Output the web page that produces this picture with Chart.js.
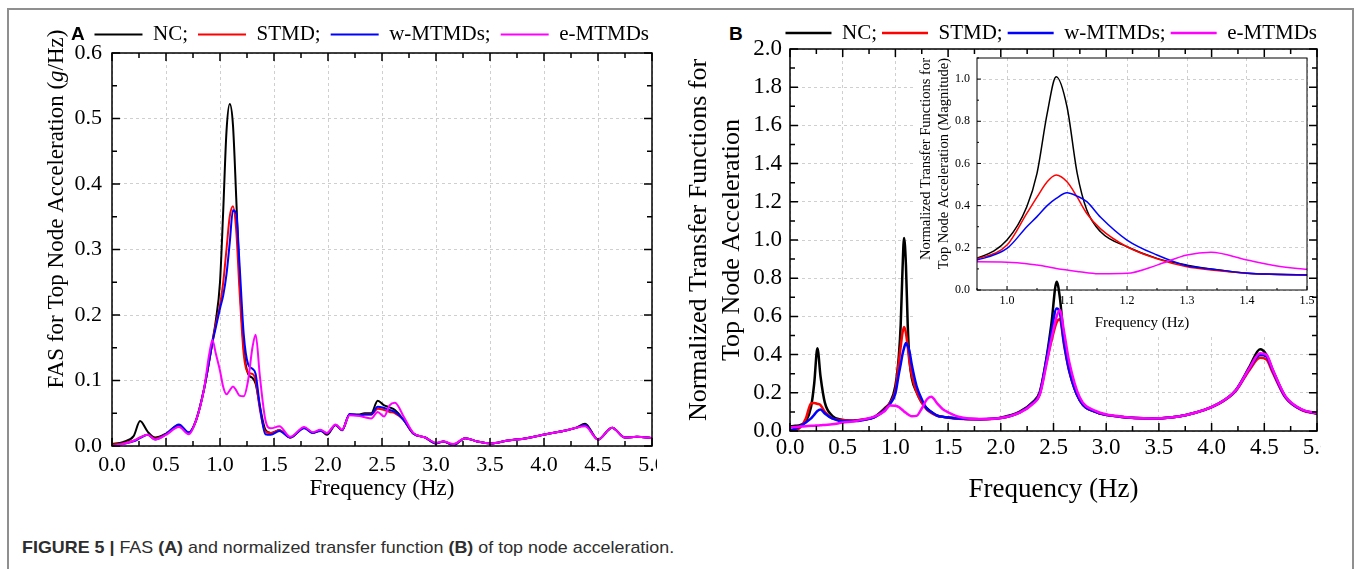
<!DOCTYPE html>
<html>
<head>
<meta charset="utf-8">
<title>Figure 5</title>
<script src="https://cdn.jsdelivr.net/npm/chart.js@4.4.1/dist/chart.umd.min.js"></script>
<style>
  html, body { margin: 0; padding: 0; background: #fff; }
  body { position: relative; width: 1358px; height: 569px; overflow: hidden; }
  canvas { display: block; }
  .border { position: absolute; left: 7px; top: 8px; width: 1347px; height: 620px; border: 2px solid #8f8f8f; box-sizing: border-box; }
  .wrap { position: absolute; }
  .tag { position: absolute; font: bold 19px "Liberation Sans", Arial, sans-serif; line-height: 19px; }
  #caption { position: absolute; left: 22px; top: 538px; font: 17px "Liberation Sans", Arial, sans-serif; line-height: 20px; color: #2e2e2e; white-space: nowrap; transform-origin: 0 50%; }
</style>
</head>
<body>
<div class="border"></div>
<div class="wrap" style="left:20px;top:12px;"><canvas id="chartA" width="637" height="498"></canvas></div>
<div class="wrap" style="left:914px;top:57px;z-index:1;"><canvas id="inset" width="404" height="278"></canvas></div>
<div class="wrap" style="left:672px;top:13px;z-index:2;"><canvas id="chartB" width="649" height="499"></canvas></div>
<div class="tag" style="left:71px;top:24px;">A</div>
<div class="tag" style="left:729px;top:24px;">B</div>
<div id="caption"><b>FIGURE 5 |</b> FAS <b>(A)</b> and normalized transfer function <b>(B)</b> of top node acceleration.</div>
<script>
// series names and colours (NC, STMD, w-MTMDs, e-MTMDs)
const seriesNames = ['NC', 'STMD', 'w-MTMDs', 'e-MTMDs'];
const seriesColors = ['#000000', '#ff0000', '#0000ff', '#ff00ff'];

// panel A: FAS of top node acceleration (g/Hz)
const freqA = [0, 0.1, 0.2, 0.26, 0.33, 0.4, 0.5, 0.62, 0.71, 0.78,
  0.85, 0.9, 0.93, 0.96, 1.0, 1.03, 1.06, 1.09, 1.12, 1.15,
  1.18, 1.22, 1.26, 1.3, 1.33, 1.37, 1.42, 1.47, 1.55, 1.65,
  1.78, 1.86, 1.93, 1.99, 2.07, 2.13, 2.2, 2.28, 2.34, 2.4,
  2.46, 2.52, 2.57, 2.62, 2.7, 2.79, 2.9, 3.0, 3.07, 3.16,
  3.27, 3.38, 3.51, 3.65, 3.84, 4.02, 4.21, 4.3, 4.38, 4.5,
  4.63, 4.75, 4.86, 5.0];
const ncA = [0.003, 0.006, 0.015, 0.038, 0.022, 0.013, 0.019, 0.032, 0.020, 0.040,
  0.085, 0.130, 0.160, 0.190, 0.250, 0.360, 0.480, 0.522, 0.490, 0.380,
  0.260, 0.150, 0.110, 0.104, 0.095, 0.060, 0.025, 0.020, 0.024, 0.013,
  0.028, 0.020, 0.024, 0.017, 0.032, 0.024, 0.048, 0.048, 0.050, 0.050,
  0.069, 0.062, 0.059, 0.055, 0.040, 0.019, 0.013, 0.004, 0.007, 0.001,
  0.012, 0.007, 0.004, 0.008, 0.012, 0.018, 0.024, 0.028, 0.034, 0.010,
  0.028, 0.013, 0.014, 0.012];
const stmdA = [0.002, 0.004, 0.008, 0.013, 0.017, 0.011, 0.018, 0.030, 0.020, 0.040,
  0.085, 0.130, 0.158, 0.185, 0.215, 0.250, 0.300, 0.350, 0.366, 0.330,
  0.240, 0.140, 0.112, 0.110, 0.100, 0.055, 0.022, 0.020, 0.024, 0.013,
  0.028, 0.020, 0.024, 0.019, 0.032, 0.024, 0.048, 0.047, 0.048, 0.048,
  0.057, 0.055, 0.052, 0.050, 0.040, 0.019, 0.013, 0.004, 0.007, 0.002,
  0.012, 0.007, 0.004, 0.008, 0.012, 0.018, 0.024, 0.028, 0.032, 0.010,
  0.028, 0.013, 0.014, 0.012];
const wmtA = [0.000, 0.003, 0.007, 0.012, 0.017, 0.010, 0.018, 0.033, 0.021, 0.040,
  0.085, 0.130, 0.158, 0.180, 0.210, 0.230, 0.262, 0.310, 0.360, 0.355,
  0.280, 0.170, 0.125, 0.118, 0.110, 0.060, 0.018, 0.017, 0.023, 0.013,
  0.027, 0.020, 0.023, 0.019, 0.032, 0.024, 0.049, 0.047, 0.048, 0.048,
  0.060, 0.058, 0.055, 0.052, 0.040, 0.019, 0.013, 0.004, 0.007, 0.002,
  0.012, 0.007, 0.004, 0.008, 0.012, 0.018, 0.024, 0.028, 0.032, 0.010,
  0.028, 0.013, 0.014, 0.012];
const emtA = [0.000, 0.003, 0.008, 0.013, 0.017, 0.010, 0.017, 0.029, 0.018, 0.040,
  0.085, 0.140, 0.162, 0.142, 0.115, 0.090, 0.079, 0.085, 0.091, 0.085,
  0.077, 0.076, 0.100, 0.150, 0.170, 0.105, 0.040, 0.027, 0.030, 0.014,
  0.029, 0.021, 0.025, 0.020, 0.033, 0.025, 0.047, 0.046, 0.044, 0.042,
  0.052, 0.045, 0.062, 0.066, 0.045, 0.020, 0.013, 0.005, 0.007, 0.003,
  0.012, 0.007, 0.004, 0.008, 0.012, 0.018, 0.024, 0.028, 0.030, 0.010,
  0.028, 0.013, 0.014, 0.012];

// panel B (and its inset): normalized transfer functions
const freqB = [0, 0.05, 0.1, 0.15, 0.2, 0.23, 0.26, 0.29, 0.33, 0.4,
  0.5, 0.6, 0.7, 0.8, 0.9, 0.95, 1.0, 1.033, 1.05, 1.067,
  1.082, 1.1, 1.117, 1.133, 1.156, 1.2, 1.25, 1.3, 1.34, 1.4,
  1.45, 1.5, 1.6, 1.8, 2.0, 2.18, 2.3, 2.37, 2.43, 2.48,
  2.53, 2.56, 2.6, 2.65, 2.75, 2.9, 3.13, 3.44, 3.76, 4.07,
  4.23, 4.36, 4.46, 4.52, 4.58, 4.7, 4.86, 5.0];
const ncB = [0.023, 0.027, 0.032, 0.050, 0.127, 0.250, 0.433, 0.284, 0.150, 0.080,
  0.058, 0.054, 0.060, 0.074, 0.120, 0.150, 0.237, 0.395, 0.553, 0.837,
  1.011, 0.869, 0.553, 0.379, 0.276, 0.205, 0.150, 0.118, 0.100, 0.079,
  0.074, 0.071, 0.065, 0.062, 0.070, 0.101, 0.150, 0.205, 0.370, 0.560,
  0.782, 0.700, 0.480, 0.320, 0.160, 0.100, 0.075, 0.066, 0.084, 0.145,
  0.215, 0.337, 0.428, 0.400, 0.320, 0.180, 0.110, 0.092];
const stmdB = [0.000, 0.005, 0.020, 0.065, 0.145, 0.147, 0.142, 0.136, 0.100, 0.066,
  0.057, 0.054, 0.060, 0.072, 0.115, 0.148, 0.213, 0.363, 0.440, 0.513,
  0.545, 0.513, 0.440, 0.363, 0.290, 0.205, 0.148, 0.110, 0.095, 0.080,
  0.074, 0.070, 0.064, 0.061, 0.068, 0.098, 0.145, 0.195, 0.350, 0.470,
  0.570, 0.585, 0.450, 0.310, 0.160, 0.100, 0.075, 0.066, 0.084, 0.143,
  0.210, 0.320, 0.383, 0.375, 0.305, 0.175, 0.108, 0.091];
const wmtB = [0.005, 0.012, 0.025, 0.045, 0.066, 0.085, 0.105, 0.113, 0.092, 0.066,
  0.052, 0.052, 0.058, 0.072, 0.110, 0.142, 0.197, 0.300, 0.348, 0.400,
  0.434, 0.461, 0.445, 0.419, 0.345, 0.237, 0.166, 0.115, 0.100, 0.080,
  0.075, 0.071, 0.065, 0.062, 0.068, 0.098, 0.145, 0.197, 0.365, 0.520,
  0.642, 0.620, 0.460, 0.315, 0.160, 0.100, 0.075, 0.066, 0.084, 0.144,
  0.212, 0.328, 0.398, 0.390, 0.315, 0.178, 0.110, 0.092];
const emtB = [0.019, 0.021, 0.023, 0.025, 0.027, 0.028, 0.029, 0.030, 0.032, 0.035,
  0.044, 0.050, 0.061, 0.075, 0.105, 0.134, 0.132, 0.125, 0.118, 0.110,
  0.102, 0.095, 0.088, 0.082, 0.077, 0.079, 0.118, 0.166, 0.179, 0.142,
  0.114, 0.098, 0.075, 0.063, 0.068, 0.096, 0.140, 0.190, 0.340, 0.480,
  0.600, 0.634, 0.520, 0.360, 0.175, 0.105, 0.076, 0.066, 0.084, 0.145,
  0.213, 0.330, 0.407, 0.400, 0.322, 0.182, 0.112, 0.094];

// tick values
const xTicksMain = [0, 0.5, 1, 1.5, 2, 2.5, 3, 3.5, 4, 4.5, 5];
const yTicksA = [0, 0.1, 0.2, 0.3, 0.4, 0.5, 0.6];
const yTicksB = [0, 0.2, 0.4, 0.6, 0.8, 1.0, 1.2, 1.4, 1.6, 1.8, 2.0];
const xTicksInset = [1.0, 1.1, 1.2, 1.3, 1.4, 1.5];
const yTicksInset = [0, 0.2, 0.4, 0.6, 0.8, 1.0];

Chart.defaults.font.family = '"Liberation Serif", "Times New Roman", serif';
Chart.defaults.color = '#000';

function makeSets(freq, series, width) {
  return series.map((vals, i) => ({
    label: seriesNames[i],
    data: freq.map((f, k) => ({ x: f, y: vals[k] })),
    borderColor: seriesColors[i],
    backgroundColor: seriesColors[i],
    borderWidth: width,
    pointRadius: 0,
    fill: false
  })).reverse(); // e-MTMDs drawn last, on top
}

const serif = (size, lh) => ({ family: '"Liberation Serif", "Times New Roman", serif', size: size, lineHeight: lh || 1.2 });
const setTicks = vals => s => { s.ticks = vals.map(v => ({ value: v })); };
const fixSize = (w, h) => s => {
  if (w) s.width = w;
  if (h) s.height = h;
  s.paddingLeft = s.paddingRight = s.paddingTop = s.paddingBottom = 0;
};
const grid = { color: '#cfcfcf', lineWidth: 1, drawTicks: false };
const border = { display: false, dash: [3, 3] };
const oneDecimal = v => Number(v).toFixed(1);

// box around the plot area with inward major/minor ticks
const frame = {
  id: 'frame',
  afterDatasetsDraw(chart, args, o) {
    const { ctx, chartArea: a, scales } = chart;
    const marks = (scale, step) => {
      const out = [];
      const n0 = Math.ceil(scale.min / step - 1e-6), n1 = Math.floor(scale.max / step + 1e-6);
      for (let n = n0; n <= n1; n++) out.push([scale.getPixelForValue(n * step), n % 2 === 0 ? o.major : o.minor]);
      return out;
    };
    ctx.save();
    ctx.strokeStyle = '#000';
    ctx.lineWidth = o.width;
    ctx.strokeRect(a.left, a.top, a.right - a.left, a.bottom - a.top);
    ctx.beginPath();
    marks(scales.x, o.xStep).forEach(([px, len]) => {
      ctx.moveTo(px, a.bottom); ctx.lineTo(px, a.bottom - len);
      if (o.mirror) { ctx.moveTo(px, a.top); ctx.lineTo(px, a.top + len); }
    });
    marks(scales.y, o.yStep).forEach(([py, len]) => {
      ctx.moveTo(a.left, py); ctx.lineTo(a.left + len, py);
      if (o.mirror) { ctx.moveTo(a.right, py); ctx.lineTo(a.right - len, py); }
    });
    ctx.stroke();
    ctx.restore();
  }
};

// move the legend row a little
const nudge = {
  id: 'nudge',
  afterLayout(chart, args, o) {
    const l = chart.legend;
    if (!l) return;
    l.top += o.dy; l.bottom += o.dy; l.left += o.dx; l.right += o.dx;
  }
};

// white paper behind the inset (only its own box, the "1.5" label may run past it)
const paper = {
  id: 'paper',
  beforeDraw(chart, args, o) {
    const ctx = chart.ctx;
    ctx.save();
    ctx.fillStyle = '#fff';
    ctx.fillRect(0, 0, o.w, chart.height);
    ctx.restore();
  }
};

// cut a window in panel B's grid so the inset underneath shows, lines still drawn on top
const insetHole = {
  id: 'insetHole',
  beforeDatasetsDraw(chart, args, o) {
    chart.ctx.clearRect(o.x, o.y, o.w, o.h);
  }
};

// panel A y title with italic g
const titleAParts = [['FAS for Top Node Acceleration (', false], ['g', true], ['/Hz)', false]];
const yTitleA = {
  id: 'yTitleA',
  afterDraw(chart) {
    const ctx = chart.ctx;
    const fonts = titleAParts.map(p => (p[1] ? 'italic ' : '') + '23px "Liberation Serif"');
    ctx.save();
    ctx.translate(37, 197);
    ctx.rotate(-Math.PI / 2);
    ctx.textBaseline = 'middle';
    ctx.fillStyle = '#000';
    let total = 0;
    titleAParts.forEach((p, i) => { ctx.font = fonts[i]; total += ctx.measureText(p[0]).width; });
    let cx = -total / 2;
    titleAParts.forEach((p, i) => { ctx.font = fonts[i]; ctx.fillText(p[0], cx, 0); cx += ctx.measureText(p[0]).width; });
    ctx.restore();
  }
};

function legendOpts(pad, lineW) {
  return {
    display: true, position: 'top', align: 'end', reverse: true,
    labels: {
      usePointStyle: true, pointStyle: 'line', pointStyleWidth: lineW, padding: pad,
      color: '#000', font: serif(21),
      generateLabels: chart => Chart.defaults.plugins.legend.labels.generateLabels(chart).map(it => {
        if (it.text !== seriesNames[seriesNames.length - 1]) it.text += ';';
        return it;
      })
    }
  };
}

new Chart(document.getElementById('chartA'), {
  type: 'line',
  data: { datasets: makeSets(freqA, [ncA, stmdA, wmtA, emtA], 2) },
  options: {
    responsive: false, animation: false, events: [],
    layout: { padding: { right: 5 } },
    elements: { line: { cubicInterpolationMode: 'monotone' } },
    scales: {
      x: {
        type: 'linear', min: 0, max: 5,
        afterBuildTicks: setTicks(xTicksMain), afterFit: fixSize(null, 64),
        ticks: { font: serif(22), padding: 6, maxRotation: 0, autoSkip: false, callback: oneDecimal },
        grid: grid, border: border,
        title: { display: true, text: 'Frequency (Hz)', font: serif(23), padding: { top: 0, bottom: 7 } }
      },
      y: {
        min: 0, max: 0.6,
        afterBuildTicks: setTicks(yTicksA), afterFit: fixSize(92, null),
        ticks: { font: serif(22), padding: 10, callback: oneDecimal },
        grid: grid, border: border
      }
    },
    plugins: {
      legend: legendOpts(10, 48),
      tooltip: { enabled: false },
      nudge: { dx: 7, dy: 2 },
      frame: { width: 1.5, major: 8, minor: 5, xStep: 0.25, yStep: 0.05, mirror: true }
    }
  },
  plugins: [frame, nudge, yTitleA]
});

new Chart(document.getElementById('inset'), {
  type: 'line',
  data: { datasets: makeSets(freqB, [ncB, stmdB, wmtB, emtB], 1.5) },
  options: {
    responsive: false, animation: false, events: [],
    layout: { padding: { top: 1, right: 11 } },
    elements: { line: { cubicInterpolationMode: 'monotone' } },
    scales: {
      x: {
        type: 'linear', min: 0.95, max: 1.5,
        afterBuildTicks: setTicks(xTicksInset), afterFit: fixSize(null, 45),
        ticks: { font: serif(12), padding: 4, maxRotation: 0, autoSkip: false, callback: oneDecimal },
        grid: grid, border: border,
        title: { display: true, text: 'Frequency (Hz)', font: serif(15), padding: { top: 0, bottom: 3 } }
      },
      y: {
        min: 0, max: 1.1,
        afterBuildTicks: setTicks(yTicksInset), afterFit: fixSize(63, null),
        ticks: { font: serif(12), padding: 7, callback: oneDecimal },
        grid: grid, border: border,
        title: {
          display: true, align: 'end',
          text: ['Normalized Transfer Functions for', 'Top Node Acceleration (Magnitude)'],
          font: serif(14.5, 1.26), padding: { top: 3, bottom: 0 }
        }
      }
    },
    plugins: {
      legend: { display: false },
      tooltip: { enabled: false },
      paper: { w: 395 },
      frame: { width: 1, major: 4, minor: 2, xStep: 0.05, yStep: 0.1, mirror: false }
    }
  },
  plugins: [paper, frame]
});

new Chart(document.getElementById('chartB'), {
  type: 'line',
  data: { datasets: makeSets(freqB, [ncB, stmdB, wmtB, emtB], 2.5) },
  options: {
    responsive: false, animation: false, events: [],
    layout: { padding: { right: 4 } },
    elements: { line: { cubicInterpolationMode: 'monotone' } },
    scales: {
      x: {
        type: 'linear', min: 0, max: 5,
        afterBuildTicks: setTicks(xTicksMain), afterFit: fixSize(null, 81),
        ticks: { font: serif(23), padding: 3, maxRotation: 0, autoSkip: false, callback: oneDecimal },
        grid: grid, border: border,
        title: { display: true, text: 'Frequency (Hz)', font: serif(27), padding: { top: 0, bottom: 6 } }
      },
      y: {
        min: 0, max: 2,
        afterBuildTicks: setTicks(yTicksB), afterFit: fixSize(118, null),
        ticks: { font: serif(23), padding: 8, callback: oneDecimal },
        grid: grid, border: border,
        title: {
          display: true,
          text: ['Normalized Transfer Functions for', 'Top Node Acceleration'],
          font: serif(26, 1.25), padding: { top: 11, bottom: 0 }
        }
      }
    },
    plugins: {
      legend: legendOpts(5, 46),
      tooltip: { enabled: false },
      nudge: { dx: 5, dy: 4.5 },
      insetHole: { x: 242, y: 44, w: 395, h: 278 },
      frame: { width: 1.5, major: 8, minor: 5, xStep: 0.25, yStep: 0.1, mirror: true }
    }
  },
  plugins: [insetHole, frame, nudge]
});

// the caption in the figure is set in a condensed face: squeeze to the same width
const cap = document.getElementById('caption');
const capW = cap.getBoundingClientRect().width;
cap.style.transform = 'scaleX(' + (652 / capW).toFixed(3) + ')';
</script>
</body>
</html>
